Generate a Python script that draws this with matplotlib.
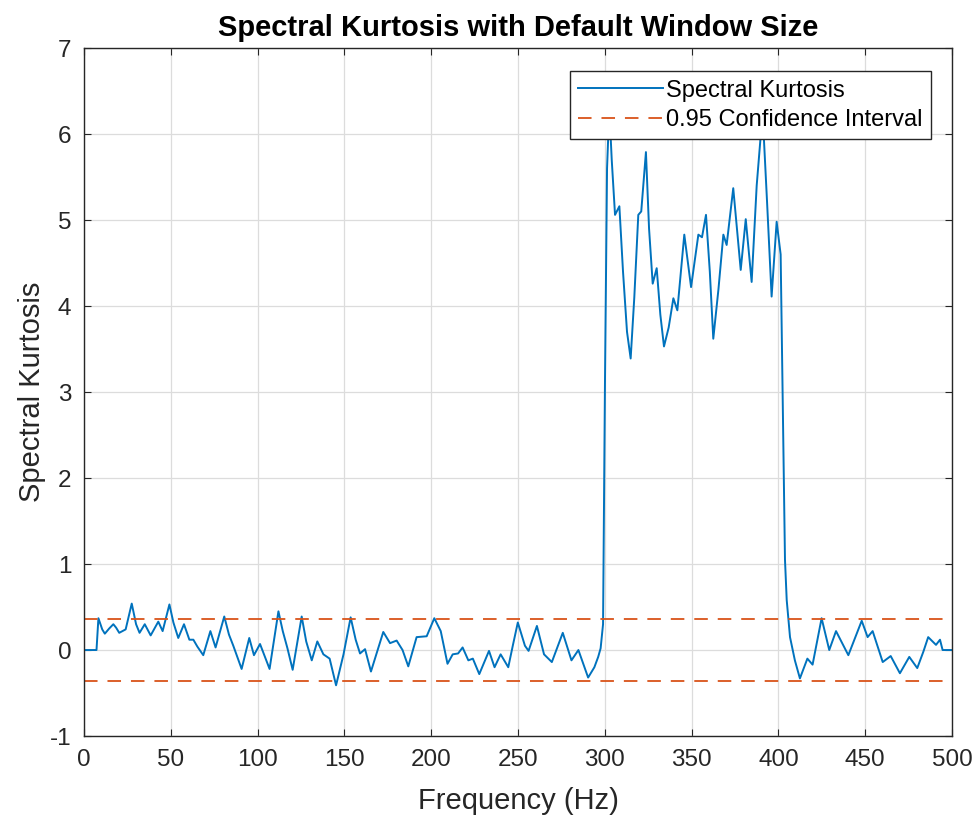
import matplotlib.pyplot as plt
import numpy as np

plt.rcParams['font.family'] = ['Liberation Sans', 'DejaVu Sans']
plt.rcParams['axes.unicode_minus'] = False

# Values (frequency in Hz, spectral kurtosis)
freq = [0, 3, 7.2, 8.3, 10.5, 12, 14.5, 16.9, 18.5, 20.3, 24, 27.5, 30, 32,
        35, 38.4, 42.8, 45.3, 49.2, 51.5, 54.3, 57.6, 60.7, 63, 65.3, 68.7,
        72.8, 75.8, 80.8, 83.5, 86, 90.8, 95.2, 97.9, 101.4, 106.9, 112,
        114.5, 117.2, 120.2, 125.4, 128, 131.2, 134.4, 137.9, 141.5, 145.2,
        149.5, 153.6, 156.5, 159, 161.9, 165.3, 172.4, 176.3, 180.1, 183.5,
        186.8, 191.6, 197.4, 201.8, 205.5, 209.4, 212.4, 215.5, 218.1,
        221.4, 224, 227.7, 233.3, 236.5, 240, 244.4, 247, 249.9, 254, 256.1,
        260.9, 265, 269.5, 275.8, 280.8, 284.8, 290.4, 294, 296.2, 297.6,
        299.0, 300.1, 301.3, 302.6, 304.0, 305.9, 308.4, 310.5, 312.8,
        314.9, 317, 319.3, 321, 323.7, 325.5, 327.6, 329.9, 332, 334.1,
        336.8, 339.5, 341.8, 345.8, 349.7, 353.9, 356, 358.3, 360.5, 362.5,
        365.5, 368.3, 370.2, 374, 378.3, 381.2, 384.6, 387.5, 390.9, 393.5,
        396.1, 399, 401.3, 403.8, 404.8, 406.7, 409.5, 412.4, 416.7, 419.7,
        424.9, 429.3, 433.2, 440.3, 448, 451.4, 454.3, 460.1, 464.7, 470,
        475.4, 480, 483.5, 486.3, 490.8, 493.1, 494.6, 500]
kurt = [0, 0, 0, 0.37, 0.24, 0.19, 0.25, 0.30, 0.26, 0.20, 0.24, 0.54,
        0.30, 0.20, 0.30, 0.17, 0.33, 0.22, 0.53, 0.32, 0.14, 0.30, 0.12,
        0.12, 0.04, -0.06, 0.22, 0.03, 0.39, 0.18, 0.05, -0.22, 0.14, -0.06,
        0.07, -0.22, 0.45, 0.22, 0.02, -0.23, 0.39, 0.10, -0.12, 0.10, -0.05,
        -0.10, -0.41, -0.05, 0.38, 0.12, -0.04, 0.01, -0.25, 0.21, 0.08,
        0.11, 0.00, -0.19, 0.15, 0.16, 0.37, 0.22, -0.16, -0.05, -0.04,
        0.03, -0.12, -0.10, -0.28, -0.01, -0.20, -0.05, -0.20, 0.05, 0.32,
        0.05, -0.01, 0.28, -0.05, -0.14, 0.20, -0.12, 0.00, -0.32, -0.20,
        -0.08, 0.02, 0.3, 3.1, 5.6, 6.3, 5.7, 5.06, 5.16, 4.4, 3.7, 3.39,
        4.1, 5.06, 5.1, 5.79, 4.9, 4.26, 4.44, 3.9, 3.53, 3.75, 4.09, 3.95,
        4.83, 4.22, 4.83, 4.8, 5.06, 4.4, 3.62, 4.2, 4.83, 4.71, 5.37, 4.42,
        5.01, 4.28, 5.4, 6.25, 5.2, 4.11, 4.98, 4.6, 1.05, 0.58, 0.15,
        -0.12, -0.33, -0.10, -0.17, 0.37, 0.00, 0.22, -0.06, 0.34, 0.15,
        0.22, -0.14, -0.07, -0.27, -0.08, -0.21, -0.02, 0.15, 0.06, 0.12,
        0.00, 0.00]
ci = 0.36

fig = plt.figure(figsize=(9.79, 8.21), dpi=100)
ax = fig.add_axes([0.0858, 0.1035, 0.8866, 0.838])

ax.plot(freq, kurt, color='#0072BD', linewidth=1.4, label='Spectral Kurtosis')
ax.axhline(ci, color='#D95319', linestyle=(0, (7.5, 5.5)), linewidth=1.3,
           label='0.95 Confidence Interval')
ax.axhline(-ci, color='#D95319', linestyle=(0, (7.5, 5.5)), linewidth=1.3)

ax.set_xlim(0, 500)
ax.set_ylim(-1, 7)
ax.set_xticks(np.arange(0, 501, 50))
ax.set_yticks(np.arange(-1, 8, 1))
ax.grid(True, color='#dcdcdc', linewidth=0.9)
ax.set_axisbelow(True)
ax.tick_params(direction='in', labelsize=17.5, colors='#262626', length=5,
               top=True, right=True, labeltop=False, labelright=False, pad=9)
for s in ax.spines.values():
    s.set_color('#262626')
    s.set_linewidth(1.0)

ax.set_xlabel('Frequency (Hz)', fontsize=21, color='#262626', labelpad=12)
ax.set_ylabel('Spectral Kurtosis', fontsize=21, color='#262626', labelpad=3)
ax.set_title('Spectral Kurtosis with Default Window Size', fontsize=21,
             fontweight='bold', pad=9)

leg = ax.legend(loc='upper right', bbox_to_anchor=(0.976, 0.966),
                fontsize=17, fancybox=False, framealpha=1,
                edgecolor='#262626', borderpad=0.35, labelspacing=0.3,
                handlelength=3.6, handletextpad=0.15, borderaxespad=0)
leg.get_frame().set_linewidth(1.0)
leg.set_zorder(5)

plt.savefig('out.png', dpi=100)
